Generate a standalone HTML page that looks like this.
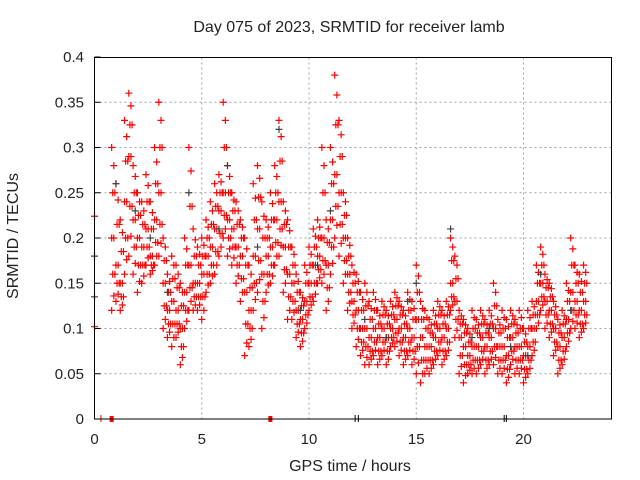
<!DOCTYPE html>
<html><head><meta charset="utf-8"><style>
body{margin:0;background:#fff;}
svg{display:block;font-family:"Liberation Sans",sans-serif;}
</style></head><body>
<svg id="chart" width="640" height="480" viewBox="0 0 640 480">
<rect width="640" height="480" fill="#fff"/>
<text x="349" y="32" font-size="16" text-anchor="middle" fill="#222">Day 075 of 2023, SRMTID for receiver lamb</text>
<g id="grid"></g>
<g id="ticks"></g>
<g id="red"></g>
<g id="dark"></g>
<rect x="94.5" y="57.5" width="517" height="361.5" fill="none" stroke="#000" stroke-width="1"/>
<text x="350" y="471" font-size="16" text-anchor="middle" fill="#222">GPS time / hours</text>
<text x="18" y="236" font-size="16" text-anchor="middle" fill="#222" transform="rotate(-90 18 236)">SRMTID / TECUs</text>
</svg>
<script>
const xTicks=[0,5,10,15,20];
const yTicks=[0,0.05,0.1,0.15,0.2,0.25,0.3,0.35,0.4];
const yTickLabels=["0","0.05","0.1","0.15","0.2","0.25","0.3","0.35","0.4"];
const hours=[0.8,1.0,1.2,1.4,1.6,1.8,2.0,2.2,2.4,2.6,2.8,3.0,3.2,3.4,3.6,3.8,4.0,4.2,4.4,4.6,4.8,5.0,5.2,5.4,5.6,5.8,6.0,6.2,6.4,6.6,6.8,7.0,7.2,7.4,7.6,7.8,8.0,8.2,8.4,8.6,8.8,9.0,9.2,9.4,9.6,9.8,10.0,10.2,10.4,10.6,10.8,11.0,11.2,11.4,11.6,11.8,12.0,12.2,12.4,12.6,12.8,13.0,13.2,13.4,13.6,13.8,14.0,14.2,14.4,14.6,14.8,15.0,15.2,15.4,15.6,15.8,16.0,16.2,16.4,16.6,16.8,17.0,17.2,17.4,17.6,17.8,18.0,18.2,18.4,18.6,18.8,19.0,19.2,19.4,19.6,19.8,20.0,20.2,20.4,20.6,20.8,21.0,21.2,21.4,21.6,21.8,22.0,22.2,22.4,22.6,22.8];
const hiVals=[.30,.26,.22,.33,.36,.28,.25,.24,.27,.24,.30,.35,.20,.16,.18,.17,.15,.20,.30,.21,.19,.20,.22,.24,.26,.27,.35,.28,.25,.24,.22,.20,.17,.26,.28,.24,.22,.25,.28,.33,.24,.22,.19,.16,.14,.17,.19,.21,.22,.30,.22,.30,.38,.33,.25,.20,.17,.16,.14,.15,.13,.14,.12,.13,.12,.13,.14,.13,.12,.14,.13,.17,.13,.12,.11,.12,.13,.12,.13,.20,.18,.12,.11,.10,.12,.11,.12,.11,.12,.15,.11,.12,.11,.12,.11,.12,.10,.12,.13,.17,.19,.16,.15,.13,.11,.12,.15,.20,.17,.16,.17];
const midVals=[.20,.17,.15,.24,.29,.22,.20,.19,.21,.18,.22,.25,.15,.12,.13,.12,.10,.14,.17,.15,.15,.16,.18,.19,.21,.23,.25,.22,.21,.19,.18,.14,.12,.18,.21,.16,.18,.19,.22,.24,.19,.16,.15,.12,.11,.13,.15,.17,.18,.20,.17,.22,.27,.25,.20,.16,.13,.12,.10,.10,.09,.10,.09,.10,.09,.10,.11,.10,.09,.10,.09,.11,.09,.08,.08,.09,.10,.09,.10,.15,.13,.09,.08,.07,.08,.08,.09,.08,.09,.10,.08,.08,.07,.09,.08,.08,.07,.08,.10,.13,.15,.13,.12,.10,.08,.09,.11,.14,.13,.12,.13];
const loVals=[.12,.13,.12,.16,.18,.16,.14,.15,.17,.16,.17,.18,.10,.09,.08,.09,.06,.10,.12,.12,.12,.11,.14,.15,.16,.18,.20,.18,.17,.15,.13,.07,.08,.12,.14,.10,.14,.15,.17,.18,.14,.11,.11,.09,.08,.10,.12,.13,.15,.15,.12,.16,.20,.18,.15,.12,.10,.08,.07,.06,.06,.07,.06,.07,.06,.08,.08,.07,.06,.07,.06,.05,.04,.05,.05,.06,.07,.06,.07,.12,.09,.05,.04,.05,.05,.05,.06,.05,.06,.06,.05,.05,.04,.06,.05,.05,.04,.05,.07,.10,.12,.10,.09,.07,.05,.06,.08,.10,.10,.09,.10];
const darkHours=[0.0,0.0,1.0,1.9,2.6,3.4,4.4,5.8,6.2,7.6,8.6,9.6,10.4,11.0,12.6,13.6,14.6,15.0,16.6,17.6,18.4,19.4,20.2,20.8,22.2];
const darkVals=[0.18,0.135,0.26,0.23,0.20,0.14,0.25,0.21,0.28,0.19,0.32,0.12,0.17,0.23,0.11,0.09,0.13,0.15,0.21,0.09,0.10,0.08,0.07,0.16,0.12];
const extraRedHours=[0.0,0.0];
const extraRedVals=[0.224,0.102];

const X0=94.5,XS=21.45,Y0=419,YS=905;
function xs(t){return X0+t*XS;}
function ys(v){return Y0-v*YS;}
const NS="http://www.w3.org/2000/svg";
function mk(tag,at){const e=document.createElementNS(NS,tag);for(const k in at)e.setAttribute(k,at[k]);return e;}
const grid=document.getElementById('grid'),ticks=document.getElementById('ticks');
yTicks.forEach((v,i)=>{
 const y=ys(v);
 if(i>0&&i<yTicks.length-1){const g=mk('line',{x1:X0,x2:611.5,y1:y,y2:y,stroke:'#a0a0a0','stroke-dasharray':'2,3'});
 
 
 grid.appendChild(g);}
 const tk=mk('line',{x1:X0,x2:X0+6,y1:y,y2:y,stroke:'#000'});
 
 
 ticks.appendChild(tk);
 const tx=mk('text',{x:84,y:y+5,'font-size':15,'text-anchor':'end',fill:'#222'});
 
 
 tx.textContent=yTickLabels[i];ticks.appendChild(tx);
});
xTicks.forEach(t=>{
 const x=xs(t);
 if(t>0){const g=mk('line',{x1:x,x2:x,y1:57.5,y2:Y0,stroke:'#a0a0a0','stroke-dasharray':'2,3'});
 
 
 grid.appendChild(g);}
 const tx=mk('text',{x:x,y:444,'font-size':15,'text-anchor':'middle',fill:'#222'});
 
 
 tx.textContent=t;ticks.appendChild(tx);
});
function plus(g,t,v,col,name){
 const x=xs(t),y=ys(v);
 const p=mk('path',{d:`M${x-3.5},${y}h7M${x},${y-3.5}v7`,stroke:col,'stroke-width':1.2,fill:'none'});
 
 
 g.appendChild(p);
}
const red=document.getElementById('red'),dark=document.getElementById('dark');
hours.forEach((t,i)=>{
 const h=hiVals[i],m=midVals[i],l=loVals[i];
 plus(red,t,h,'#ff0000','red-point');
 plus(red,t,m,'#ff0000','red-point');
 plus(red,t,l,'#ff0000','red-point');
 plus(red,t+0.05,(m+h)/2,'#ff0000','red-point');
 plus(red,t+0.05,(m+l)/2,'#ff0000','red-point');
 plus(red,t+0.1,h*0.8+m*0.2,'#ff0000','red-point');
 plus(red,t+0.1,m,'#ff0000','red-point');
 plus(red,t+0.1,l*0.8+m*0.2,'#ff0000','red-point');
 plus(red,t+0.15,(m+h)/2,'#ff0000','red-point');
 plus(red,t+0.15,(m+l)/2,'#ff0000','red-point');
});
extraRedHours.forEach((t,i)=>plus(red,t,extraRedVals[i],'#ff0000','red-point'));
darkHours.forEach((t,i)=>plus(dark,t,darkVals[i],'#404040','dark-point'));
const axm=[[0.3,'#ff0000'],[12.15,'#000'],[12.3,'#000'],[19.1,'#000'],[19.2,'#000']];
axm.forEach(m=>{const l=mk('line',{x1:xs(m[0]),x2:xs(m[0]),y1:Y0-4,y2:Y0+3,stroke:m[1]});
 
 
 ticks.appendChild(l);});
[0.8,8.2].forEach(t=>{const r=mk('rect',{x:xs(t)-2,y:Y0-3,width:4,height:6,fill:'#ff0000'});
 
 
 ticks.appendChild(r);});
</script>
</body></html>
